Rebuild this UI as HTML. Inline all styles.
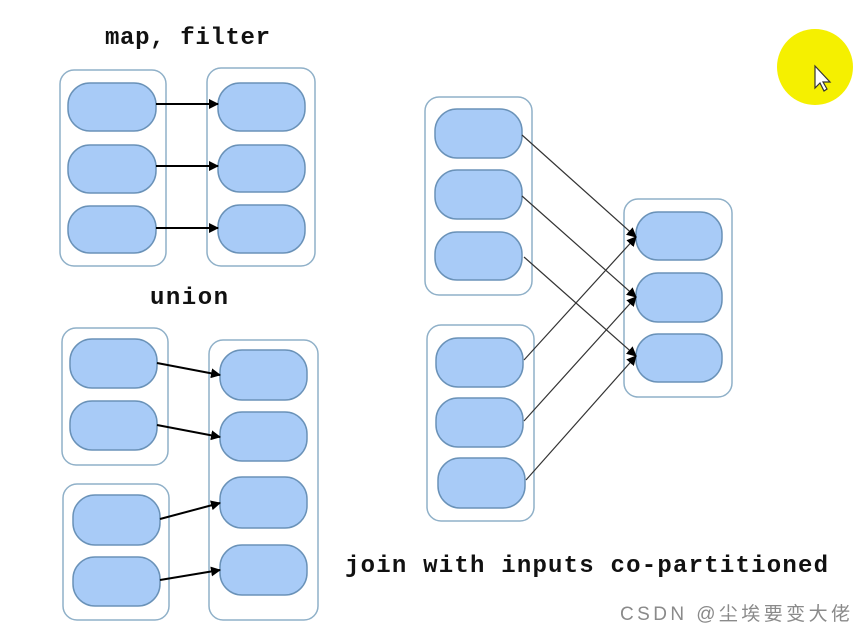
<!DOCTYPE html>
<html><head><meta charset="utf-8"><style>
html,body{margin:0;padding:0;background:#fff;}
svg{display:block}
text{font-family:"Liberation Mono",monospace;font-weight:bold;fill:#111}
</style></head><body>
<svg width="865" height="636" viewBox="0 0 865 636" xmlns="http://www.w3.org/2000/svg">
<defs>
<marker id="a" markerWidth="10" markerHeight="10" refX="9" refY="5" orient="auto" markerUnits="userSpaceOnUse">
<path d="M0,0 L10,5 L0,10 z" fill="#000"/></marker>
</defs>
<g fill="#fff" stroke="#8fb0c8" stroke-width="1.5">
<rect x="60" y="70" width="106" height="196" rx="14"/>
<rect x="207" y="68" width="108" height="198" rx="14"/>
<rect x="62" y="328" width="106" height="137" rx="14"/>
<rect x="63" y="484" width="106" height="136" rx="14"/>
<rect x="209" y="340" width="109" height="280" rx="14"/>
<rect x="425" y="97" width="107" height="198" rx="14"/>
<rect x="427" y="325" width="107" height="196" rx="14"/>
<rect x="624" y="199" width="108" height="198" rx="14"/>
</g>
<g fill="#a8cbf7" stroke="#6a92b8" stroke-width="1.5">
<rect x="68" y="83" width="88" height="48" rx="22"/>
<rect x="68" y="145" width="88" height="48" rx="22"/>
<rect x="68" y="206" width="88" height="47" rx="22"/>
<rect x="218" y="83" width="87" height="48" rx="22"/>
<rect x="218" y="145" width="87" height="47" rx="22"/>
<rect x="218" y="205" width="87" height="48" rx="22"/>
<rect x="70" y="339" width="87" height="49" rx="22"/>
<rect x="70" y="401" width="87" height="49" rx="22"/>
<rect x="73" y="495" width="87" height="50" rx="22"/>
<rect x="73" y="557" width="87" height="49" rx="22"/>
<rect x="220" y="350" width="87" height="50" rx="22"/>
<rect x="220" y="412" width="87" height="49" rx="22"/>
<rect x="220" y="477" width="87" height="51" rx="22"/>
<rect x="220" y="545" width="87" height="50" rx="22"/>
<rect x="435" y="109" width="87" height="49" rx="22"/>
<rect x="435" y="170" width="87" height="49" rx="22"/>
<rect x="435" y="232" width="87" height="48" rx="22"/>
<rect x="436" y="338" width="87" height="49" rx="22"/>
<rect x="436" y="398" width="87" height="49" rx="22"/>
<rect x="438" y="458" width="87" height="50" rx="22"/>
<rect x="636" y="212" width="86" height="48" rx="22"/>
<rect x="636" y="273" width="86" height="49" rx="22"/>
<rect x="636" y="334" width="86" height="48" rx="22"/>
</g>
<g stroke="#000" stroke-width="2" marker-end="url(#a)">
<line x1="156" y1="104" x2="218" y2="104"/>
<line x1="156" y1="166" x2="218" y2="166"/>
<line x1="156" y1="228" x2="218" y2="228"/>
<line x1="157" y1="363" x2="220" y2="375"/>
<line x1="157" y1="425" x2="220" y2="437"/>
<line x1="160" y1="519" x2="220" y2="503"/>
<line x1="160" y1="580" x2="220" y2="570"/>
</g>
<g stroke="#333" stroke-width="1.2" marker-end="url(#a)">
<line x1="522" y1="135" x2="636" y2="237"/>
<line x1="522" y1="196" x2="636" y2="297"/>
<line x1="524" y1="257" x2="636" y2="356"/>
<line x1="524" y1="360" x2="636" y2="237"/>
<line x1="524" y1="421" x2="636" y2="297"/>
<line x1="526" y1="480" x2="636" y2="356"/>
</g>
<text x="105" y="44" font-size="24" textLength="165">map, filter</text>
<text x="150" y="304" font-size="24" textLength="78">union</text>
<text x="345" y="572" font-size="24" textLength="483">join with inputs co-partitioned</text>
<circle cx="815" cy="67" r="38" fill="#f5f000"/>
<path d="M815,66 L815,88 L820,83 L824,91 L827,89 L823,82 L830,82 z" fill="#fff" stroke="#333" stroke-width="1.2"/>
<text x="620" y="620" font-size="19" textLength="230" style="font-family:'Liberation Sans','Noto Sans CJK SC',sans-serif;font-weight:normal;fill:#8a8a8a">CSDN @尘埃要变大佬</text>
</svg>
</body></html>
